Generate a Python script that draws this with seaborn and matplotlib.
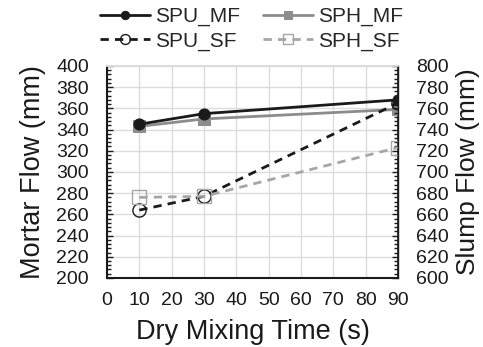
import matplotlib
matplotlib.use("Agg")
import matplotlib.pyplot as plt
import seaborn as sns
import pandas as pd
from matplotlib.ticker import MultipleLocator

sns.set_theme(style="white")
plt.rcParams['font.family'] = ['Liberation Sans', 'DejaVu Sans']

time_s = [10, 30, 90]
spu_mf = [345, 355, 368]
sph_mf = [343, 350, 359]
spu_sf = [664, 677, 765]
sph_sf = [676, 677, 723]

df = pd.DataFrame({"t": time_s, "SPU_MF": spu_mf, "SPH_MF": sph_mf,
                   "SPU_SF": spu_sf, "SPH_SF": sph_sf})

fig = plt.figure(figsize=(4.83, 3.47), dpi=100)
ax = fig.add_axes([0.2215, 0.199, 0.6025, 0.611])
ax2 = ax.twinx()

black = "#1a1a1a"
grey = "#8c8c8c"
lgrey = "#a6a6a6"

sns.lineplot(data=df, x="t", y="SPU_MF", ax=ax, color=black, marker="o",
             markersize=8, linewidth=2, markeredgecolor=black, label="SPU_MF", legend=False, zorder=5)
sns.lineplot(data=df, x="t", y="SPH_MF", ax=ax, color=grey, marker="s",
             markersize=8, linewidth=2, markeredgecolor=grey, label="SPH_MF", legend=False, zorder=4)
sns.lineplot(data=df, x="t", y="SPU_SF", ax=ax2, color=black, marker="o",
             markersize=9.5, linewidth=2, markerfacecolor="none", markeredgecolor=black,
             markeredgewidth=1, label="SPU_SF", legend=False)
sns.lineplot(data=df, x="t", y="SPH_SF", ax=ax2, color=lgrey, marker="s",
             markersize=9.5, linewidth=2, markerfacecolor="none", markeredgecolor=lgrey,
             markeredgewidth=1, label="SPH_SF", legend=False)
for ln in ax2.get_lines():
    ln.set_linestyle((0, (3, 2.2)))

ax.set_xlim(0, 90)
ax.set_ylim(200, 400)
ax2.set_ylim(600, 800)
ax.xaxis.set_major_locator(MultipleLocator(10))
ax.xaxis.set_minor_locator(MultipleLocator(5))
ax.yaxis.set_major_locator(MultipleLocator(20))
ax.yaxis.set_minor_locator(MultipleLocator(4))
ax2.yaxis.set_major_locator(MultipleLocator(20))
ax2.yaxis.set_minor_locator(MultipleLocator(4))

ax.grid(True, which="major", color="#dcdcdc", linewidth=1)
ax.set_axisbelow(True)

for a in (ax, ax2):
    a.tick_params(which="both", direction="in", colors=black, labelsize=14)
    a.tick_params(which="major", length=4, width=1)
    a.tick_params(which="minor", length=3, width=1)
ax.tick_params(axis="x", pad=10)
ax.tick_params(axis="y", pad=13)
ax2.tick_params(axis="y", pad=13)

ax.spines["left"].set_color(black)
ax.spines["bottom"].set_color(black)
ax.spines["left"].set_linewidth(1.5)
ax.spines["bottom"].set_linewidth(1.5)
for a in (ax, ax2):
    a.spines["top"].set_color("#dcdcdc")
ax2.spines["right"].set_color(black)
ax2.spines["right"].set_linewidth(1)
ax2.spines["left"].set_visible(False)
ax2.spines["bottom"].set_visible(False)

ax.set_xlabel("Dry Mixing Time (s)", fontsize=19.5, color=black, labelpad=7)
ax.set_ylabel("Mortar Flow (mm)", fontsize=19.5, color=black, labelpad=7)
ax2.set_ylabel("Slump Flow (mm)", fontsize=19, color=black, labelpad=5)

handles = ax.get_lines() + ax2.get_lines()
hmap = {h.get_label(): h for h in handles}
order = ["SPU_MF", "SPU_SF", "SPH_MF", "SPH_SF"]
fig.legend([hmap[k] for k in order], order, ncol=2, loc="upper center",
           bbox_to_anchor=(0.52, 1.01), frameon=False, fontsize=15,
           handlelength=2.4, columnspacing=1.1, labelspacing=0.25,
           handletextpad=0.24, borderaxespad=0.1, markerscale=0.75)

fig.savefig("out.png", dpi=100)
